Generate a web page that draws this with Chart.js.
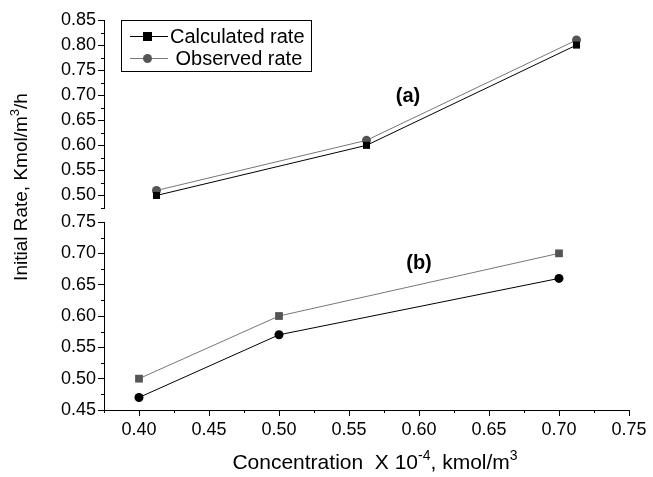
<!DOCTYPE html>
<html>
<head>
<meta charset="utf-8">
<script src="https://cdn.jsdelivr.net/npm/chart.js@4"></script>
<style>
  html, body { margin: 0; padding: 0; background: #fff; }
</style>
</head>
<body>
<canvas id="chart" width="653" height="477"></canvas>
<script>
// panel (a) - upper curves
const xA = [0.4125, 0.5625, 0.7125];
const calcA = [0.50, 0.60, 0.80];
const obsA = [0.51, 0.61, 0.81];

// panel (b) - lower curves
const xB = [0.40, 0.50, 0.70];
const calcB = [0.50, 0.60, 0.70];
const obsB = [0.47, 0.57, 0.66];

const seriesLabels = ['Calculated rate', 'Observed rate'];
const panelLabels = ['(a)', '(b)'];

const FONT = 'Liberation Sans, Arial, sans-serif';
const GREY = '#555555';
const GREY_LINE = '#777777';

function pts(xs, ys) {
  return xs.map((x, i) => ({ x: x, y: ys[i] }));
}

// label only every 0.05
function isMajor(v) {
  return Math.abs(Math.round(v * 1000) % 50) === 0;
}

function tickLabel(v) {
  return isMajor(v) ? v.toFixed(2) : '';
}

// draws text with superscript parts, segments = [[text, isSup], ...]
function drawRich(ctx, segs, cx, baseY, size) {
  let total = 0;
  segs.forEach(s => {
    ctx.font = (s[1] ? Math.round(size * 0.68) : size) + 'px ' + FONT;
    total += ctx.measureText(s[0]).width;
  });
  let x = cx - total / 2;
  ctx.textAlign = 'left';
  ctx.textBaseline = 'alphabetic';
  segs.forEach(s => {
    ctx.font = (s[1] ? Math.round(size * 0.68) : size) + 'px ' + FONT;
    ctx.fillText(s[0], x, s[1] ? baseY - size * 0.42 : baseY);
    x += ctx.measureText(s[0]).width;
  });
}

const extras = {
  id: 'extras',
  afterDraw(chart) {
    const ctx = chart.ctx;
    ctx.save();
    ctx.fillStyle = '#000';
    ctx.strokeStyle = '#000';

    // minor ticks, shorter than major ones
    ctx.lineWidth = 1;
    ['x', 'y1', 'y2'].forEach(id => {
      const s = chart.scales[id];
      s.ticks.forEach(t => {
        if (isMajor(t.value)) return;
        const p = Math.round(s.getPixelForValue(t.value)) + 0.5;
        ctx.beginPath();
        if (id === 'x') {
          ctx.moveTo(p, s.top);
          ctx.lineTo(p, s.top + 3);
        } else {
          ctx.moveTo(s.right, p);
          ctx.lineTo(s.right - 3, p);
        }
        ctx.stroke();
      });
    });

    // panel labels
    ctx.font = 'bold 20px ' + FONT;
    ctx.textAlign = 'center';
    ctx.textBaseline = 'middle';
    ctx.fillText(panelLabels[0], 408, 96);
    ctx.fillText(panelLabels[1], 419, 263);

    // axis titles
    drawRich(ctx, [['Concentration  X 10', false], ['-4', true], [', kmol/m', false], ['3', true]], 375, 469, 21);
    ctx.save();
    ctx.translate(27, 187);
    ctx.rotate(-Math.PI / 2);
    drawRich(ctx, [['Initial Rate, Kmol/m', false], ['3', true], ['/h', false]], 0, 0, 19);
    ctx.restore();

    // legend
    ctx.strokeRect(121.5, 20.5, 190, 51);
    const rows = [
      { y: 36, color: '#000', line: '#000', style: 'rect', text: seriesLabels[0], tx: 170 },
      { y: 58, color: GREY, line: GREY_LINE, style: 'circle', text: ' ' + seriesLabels[1], tx: 170 }
    ];
    rows.forEach(r => {
      ctx.strokeStyle = r.line;
      ctx.beginPath();
      ctx.moveTo(130, r.y + 0.5);
      ctx.lineTo(168, r.y + 0.5);
      ctx.stroke();
      ctx.fillStyle = r.color;
      if (r.style === 'rect') {
        ctx.fillRect(143, r.y - 4, 9, 9);
      } else {
        ctx.beginPath();
        ctx.arc(147.5, r.y + 0.5, 4.5, 0, Math.PI * 2);
        ctx.fill();
      }
      ctx.fillStyle = '#000';
      ctx.font = '20px ' + FONT;
      ctx.textAlign = 'left';
      ctx.textBaseline = 'middle';
      ctx.fillText(r.text, r.tx, r.y + 1);
    });
    ctx.restore();
  }
};

const tickFont = { family: FONT, size: 18 };

function yScale(min, max, weight) {
  return {
    type: 'linear',
    position: 'left',
    stack: 'left',
    stackWeight: weight,
    min: min,
    max: max,
    afterFit: s => { s.width = 104; },
    border: { display: true, color: '#000', width: 1 },
    grid: {
      drawOnChartArea: false,
      tickLength: 6,
      tickColor: c => isMajor(c.tick.value) ? '#000' : 'rgba(0,0,0,0)'
    },
    ticks: {
      stepSize: 0.025,
      color: '#000',
      font: tickFont,
      padding: 2,
      autoSkip: false,
      callback: v => tickLabel(v)
    }
  };
}

new Chart(document.getElementById('chart'), {
  type: 'scatter',
  data: {
    datasets: [
      {
        label: seriesLabels[0] + ' (a)',
        data: pts(xA, calcA),
        xAxisID: 'x', yAxisID: 'y1',
        showLine: true,
        borderColor: '#000', borderWidth: 1,
        pointStyle: 'rect', pointRadius: 5, pointBorderWidth: 0,
        pointBackgroundColor: '#000'
      },
      {
        label: seriesLabels[1] + ' (a)',
        data: pts(xA, obsA),
        xAxisID: 'x', yAxisID: 'y1',
        showLine: true,
        borderColor: GREY_LINE, borderWidth: 1,
        pointStyle: 'circle', pointRadius: 4.5, pointBorderWidth: 0,
        pointBackgroundColor: GREY
      },
      {
        label: seriesLabels[0] + ' (b)',
        data: pts(xB, calcB),
        xAxisID: 'x', yAxisID: 'y2',
        showLine: true,
        borderColor: GREY_LINE, borderWidth: 1,
        pointStyle: 'rect', pointRadius: 5.5, pointBorderWidth: 0,
        pointBackgroundColor: GREY
      },
      {
        label: seriesLabels[1] + ' (b)',
        data: pts(xB, obsB),
        xAxisID: 'x', yAxisID: 'y2',
        showLine: true,
        borderColor: '#000', borderWidth: 1,
        pointStyle: 'circle', pointRadius: 4.5, pointBorderWidth: 0,
        pointBackgroundColor: '#000'
      }
    ]
  },
  options: {
    responsive: false,
    animation: false,
    devicePixelRatio: 1,
    layout: { padding: { left: 0, top: 20, right: 24, bottom: 0 } },
    plugins: { legend: { display: false }, tooltip: { enabled: false } },
    scales: {
      x: {
        type: 'linear',
        position: 'bottom',
        min: 0.375,
        max: 0.75,
        afterFit: s => { s.height = 67; },
        border: { display: true, color: '#000', width: 1 },
        grid: {
          drawOnChartArea: false,
          tickLength: 6,
          tickColor: c => isMajor(c.tick.value) ? '#000' : 'rgba(0,0,0,0)'
        },
        ticks: {
          stepSize: 0.025,
          color: '#000',
          font: tickFont,
          padding: 3,
          autoSkip: false,
          maxRotation: 0,
          callback: v => v < 0.39 ? '' : tickLabel(v)
        }
      },
      // bottom panel first: left boxes are placed in reverse order
      y2: yScale(0.45, 0.75, 188),
      gap: {
        type: 'linear',
        position: 'left',
        stack: 'left',
        stackWeight: 14,
        min: 0, max: 1,
        afterFit: s => { s.width = 104; },
        border: { display: false },
        grid: { display: false },
        ticks: { display: false }
      },
      y1: yScale(0.475, 0.85, 188)
    }
  },
  plugins: [extras]
});
</script>
</body>
</html>
